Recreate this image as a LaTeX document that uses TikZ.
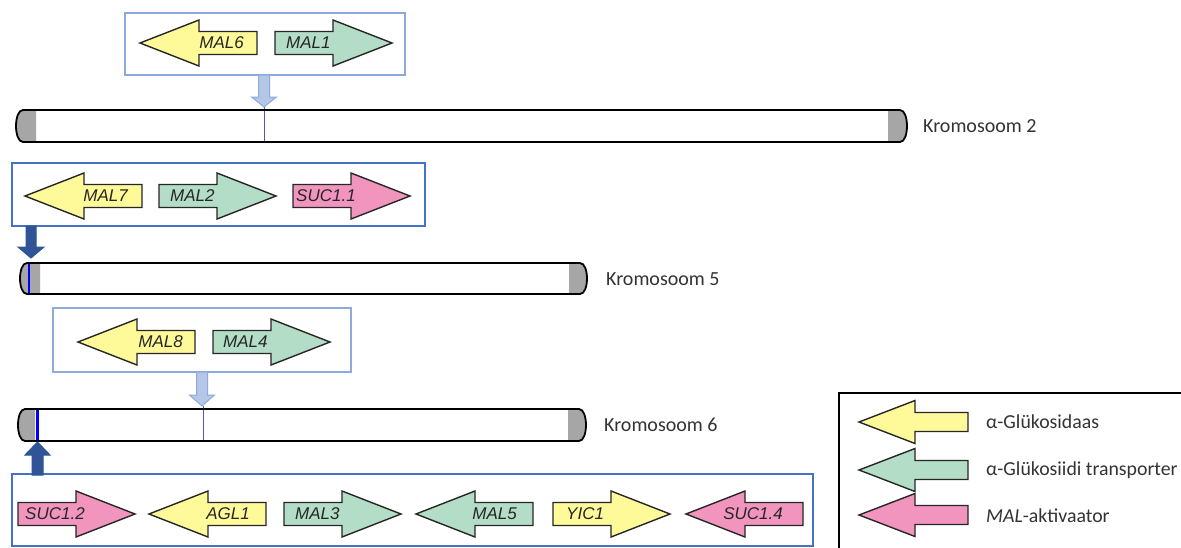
\documentclass[tikz,border=0pt]{standalone}
\usepackage{fontspec}
\setmainfont{Liberation Sans}
\newfontfamily\calib{Carlito}
\usetikzlibrary{calc}
\definecolor{gyellow}{HTML}{FFFA99}
\definecolor{ggreen}{HTML}{B3DDC6}
\definecolor{gpink}{HTML}{F195BF}
\definecolor{lbox}{HTML}{8EAADB}
\definecolor{dbox}{HTML}{4472C4}
\definecolor{larrow}{HTML}{B4C7E7}
\definecolor{darrow}{HTML}{2F5597}
\definecolor{cgray}{HTML}{A6A6A6}
\definecolor{locline}{HTML}{5B4FC8}
\definecolor{txtgray}{HTML}{333333}
\tikzset{
  genebody/.style={draw=black!85, line width=1.4pt, line join=miter},
  genelabel/.style={font=\itshape\fontsize{17}{19}\selectfont, text=black!85, inner sep=0pt},
  lightbox/.style={draw=lbox, line width=2.2pt, fill=white, inner sep=0pt},
  darkbox/.style={draw=dbox, line width=2.2pt, fill=white, inner sep=0pt},
  lightarrow/.style={draw=lbox, line width=1pt, fill=larrow},
  darkarrow/.style={draw=darrow, line width=1pt, fill=darrow},
  chromline/.style={draw=black, line width=1.8pt},
  chromlabel/.style={font=\calib\fontsize{20}{22}\selectfont, text=txtgray, inner sep=0pt, anchor=west},
  legendlabel/.style={font=\calib\fontsize{19.8}{22}\selectfont, text=txtgray, inner sep=0pt, anchor=west},
}
% right-pointing gene arrow: name, tail x, y, colour, label offset, text
\newcommand{\geneR}[6]{%
  \draw[genebody, fill=#4] ({#2},{#3-11.5}) -- ({#2+58},{#3-11.5}) -- ({#2+58},{#3-23}) -- ({#2+117},{#3}) -- ({#2+58},{#3+23}) -- ({#2+58},{#3+11.5}) -- ({#2},{#3+11.5}) -- cycle;
  \node[genelabel, anchor=west] (#1) at ({#2+#5},{#3}) {#6};}
% left-pointing gene arrow
\newcommand{\geneL}[6]{%
  \draw[genebody, fill=#4] ({#2},{#3-11.5}) -- ({#2-58},{#3-11.5}) -- ({#2-58},{#3-23}) -- ({#2-117},{#3}) -- ({#2-58},{#3+23}) -- ({#2-58},{#3+11.5}) -- ({#2},{#3+11.5}) -- cycle;
  \node[genelabel, anchor=east] (#1) at ({#2-#5},{#3}) {#6};}
% legend arrow: tail x, y, colour
\newcommand{\legarrow}[3]{%
  \draw[genebody, fill=#3] ({#1},{#2-9.5}) -- ({#1-53},{#2-9.5}) -- ({#1-53},{#2-21.5}) -- ({#1-109},{#2}) -- ({#1-53},{#2+21.5}) -- ({#1-53},{#2+9.5}) -- ({#1},{#2+9.5}) -- cycle;}
% chromosome: x0, x1, top, bottom, gray left end x, gray right start x
\newcommand{\chrom}[6]{%
  \fill[white] ({#1+7},#3) -- ({#2-7},#3) .. controls ({#2+2.3},#3) and ({#2+2.3},#4) .. ({#2-7},#4) -- ({#1+7},#4) .. controls ({#1-2.3},#4) and ({#1-2.3},#3) .. ({#1+7},#3) -- cycle;
  \fill[cgray] ({#1+7},#3) .. controls ({#1-2.3},#3) and ({#1-2.3},#4) .. ({#1+7},#4) -- (#5,#4) -- (#5,#3) -- cycle;
  \fill[cgray] ({#2-7},#3) .. controls ({#2+2.3},#3) and ({#2+2.3},#4) .. ({#2-7},#4) -- (#6,#4) -- (#6,#3) -- cycle;}
\newcommand{\chromoutline}[4]{%
  \draw[chromline] ({#1+7},#3) -- ({#2-7},#3) .. controls ({#2+2.3},#3) and ({#2+2.3},#4) .. ({#2-7},#4) -- ({#1+7},#4) .. controls ({#1-2.3},#4) and ({#1-2.3},#3) .. ({#1+7},#3) -- cycle;}
% block arrow: x centre, y start, y tip, head length (signed), shaft half, head half, style
\newcommand{\blockarrow}[7]{%
  \draw[#7] ({#1-#5},#2) -- ({#1-#5},{#3-#4}) -- ({#1-#6},{#3-#4}) -- (#1,#3) -- ({#1+#6},{#3-#4}) -- ({#1+#5},{#3-#4}) -- ({#1+#5},#2) -- cycle;}
\begin{document}
\begin{tikzpicture}[x=1pt, y=-1pt]
\clip (0,0) rectangle (1181,547);
\fill[white] (0,0) rectangle (1181,547);

% ---------- Chromosome 2 ----------
\node[lightbox, minimum width=280pt, minimum height=62pt] (box1) at (265,44) {};
\geneL{mal6}{257}{43}{gyellow}{13}{MAL6}
\geneR{mal1}{275}{43}{ggreen}{11}{MAL1}
\chrom{16}{907}{110}{142}{36}{888}
\draw[locline, line width=1pt] (264,107) -- (264,142);
\chromoutline{16}{907}{110}{142}
\blockarrow{264}{75}{107}{10}{5.5}{12.5}{lightarrow}
\node[chromlabel] (chr2) at (923,126) {Kromosoom 2};

% ---------- Chromosome 5 ----------
\node[darkbox, minimum width=413pt, minimum height=63pt] (box2) at (218.5,194.5) {};
\geneL{mal7}{142}{196}{gyellow}{14}{MAL7}
\geneR{mal2}{159}{196}{ggreen}{11}{MAL2}
\geneR{suc11}{293}{196}{gpink}{3}{SUC1.1}
\chrom{20}{587}{263}{294}{40}{569}
\draw[blue, line width=2pt] (29,263) -- (29,294);
\chromoutline{20}{587}{263}{294}
\blockarrow{31}{226}{258}{11}{5}{13}{darkarrow}
\node[chromlabel] (chr5) at (606,279) {Kromosoom 5};

% ---------- Chromosome 6 ----------
\node[lightbox, minimum width=298pt, minimum height=64pt] (box3) at (202,340) {};
\geneL{mal8}{195}{342}{gyellow}{12}{MAL8}
\geneR{mal4}{213}{342}{ggreen}{10}{MAL4}
\chrom{18}{586}{409}{441}{35}{568}
\draw[blue, line width=3pt] (37,409) -- (37,441);
\draw[locline, line width=1pt] (203,406) -- (203,441);
\chromoutline{18}{586}{409}{441}
\blockarrow{202}{372}{406}{11}{5.5}{12.5}{lightarrow}
\node[chromlabel] (chr6) at (604,425) {Kromosoom 6};

% ---------- bottom cluster ----------
\node[darkbox, minimum width=801pt, minimum height=72pt] (box4) at (412.5,510) {};
\blockarrow{37.5}{475}{442}{-13}{5.5}{12.5}{darkarrow}
\geneR{suc12}{18}{514}{gpink}{7}{SUC1.2}
\geneL{agl1}{266}{514}{gyellow}{16}{AGL1}
\geneR{mal3}{284}{514}{ggreen}{11}{MAL3}
\geneL{mal5}{533}{514}{ggreen}{16}{MAL5}
\geneR{yic1}{553}{514}{gyellow}{13}{YIC1}
\geneL{suc14}{803}{514}{gpink}{20}{SUC1.4}

% ---------- legend ----------
\node[draw=black, line width=1.5pt, minimum width=360pt, minimum height=170pt, anchor=north west, inner sep=0pt] (legend) at (838,392) {};
\legarrow{968}{422}{gyellow}
\legarrow{968}{470}{ggreen}
\legarrow{968}{515}{gpink}
\node[legendlabel] (leg1) at (986,422) {α-Glükosidaas};
\node[legendlabel] (leg2) at (986,470) {α-Glükosiidi transporter};
\node[legendlabel] (leg3) at (986,516) {\textit{MAL}-aktivaator};
\end{tikzpicture}
\end{document}
